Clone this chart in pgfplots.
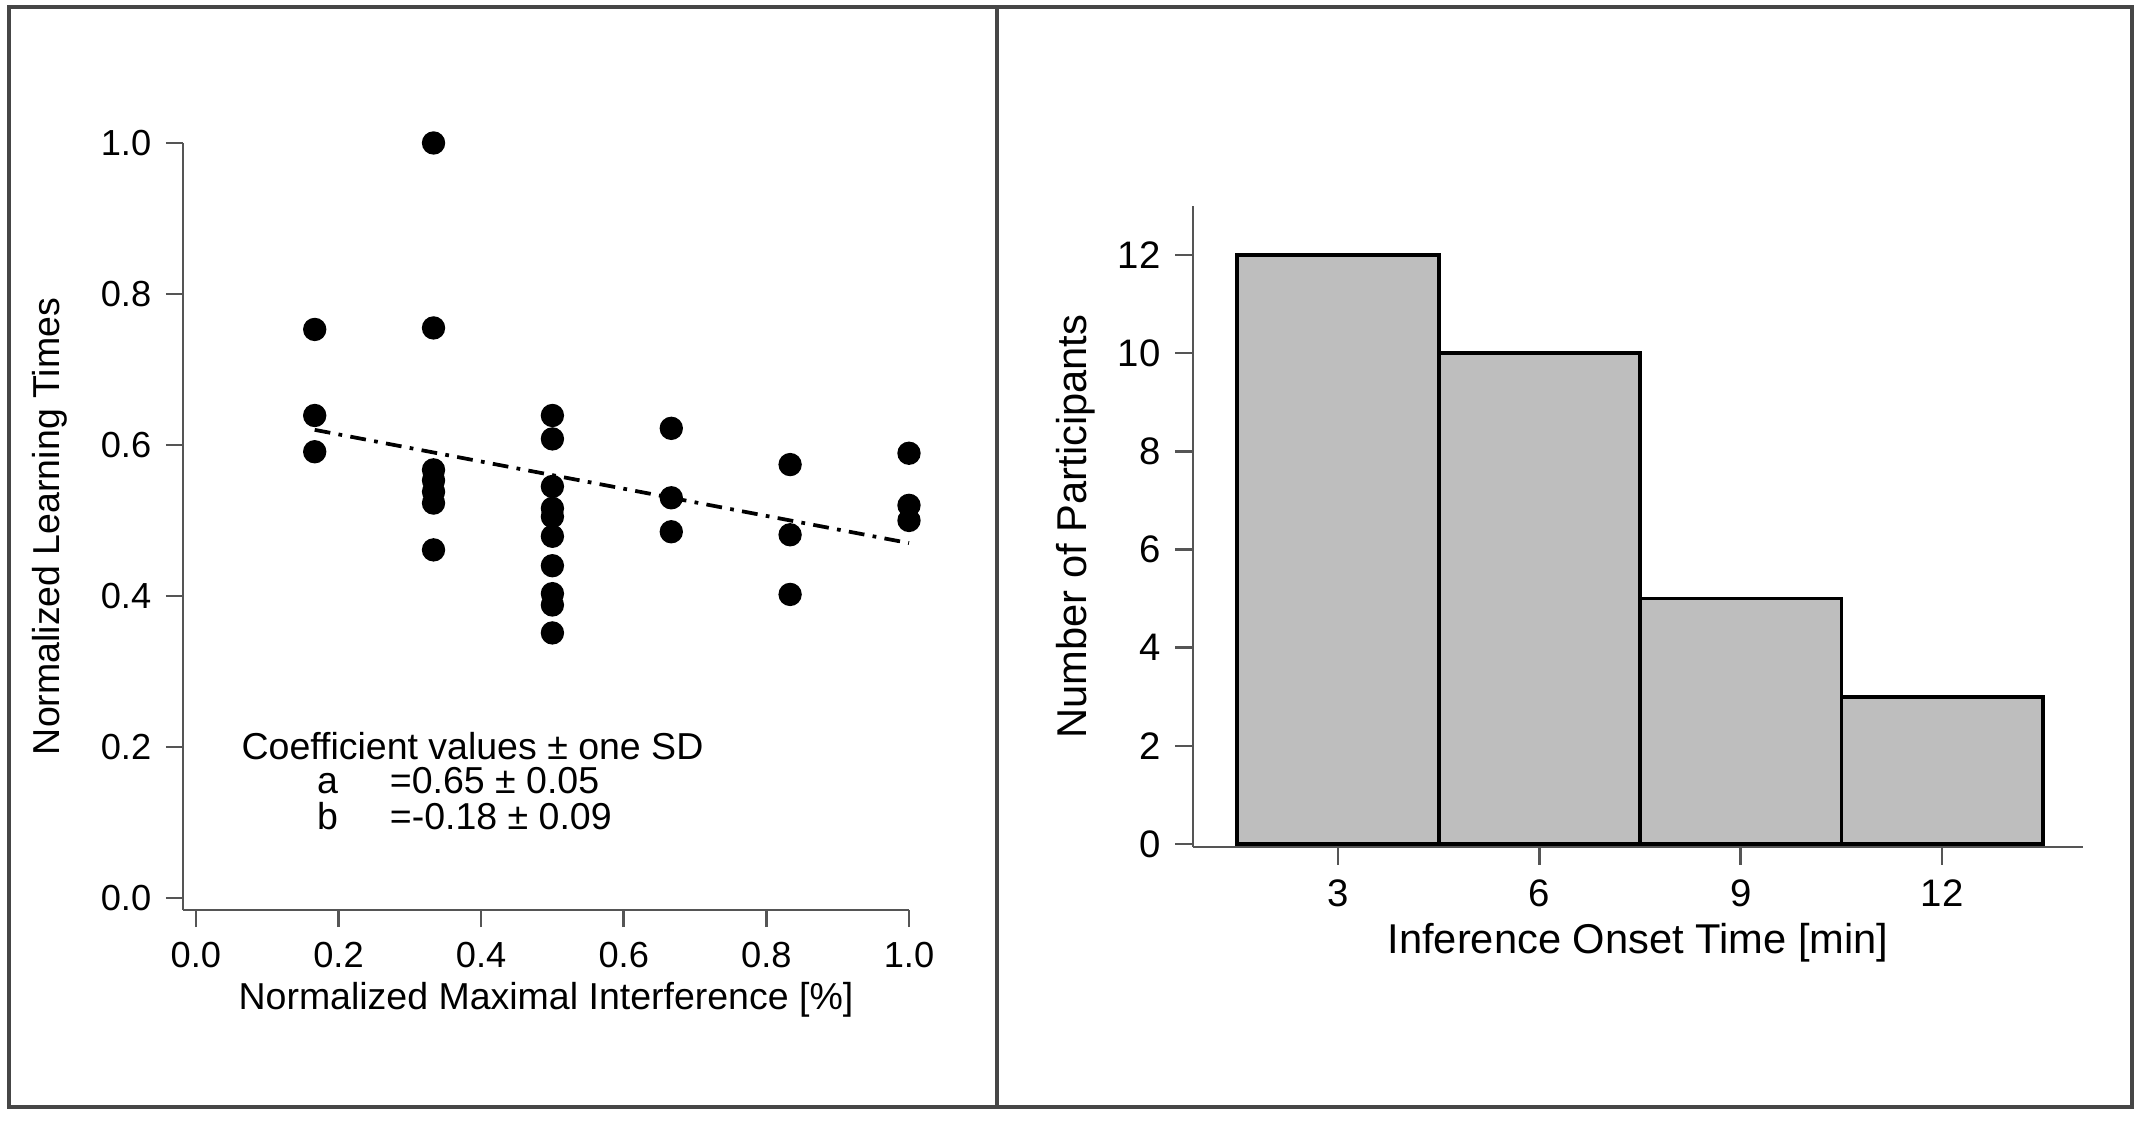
\documentclass[border=0pt]{standalone}
\usepackage{fontspec}
\setmainfont{Liberation Sans}
\usepackage{pgfplots}
\pgfplotsset{compat=1.18}
\definecolor{axgray}{RGB}{85,85,85}
\definecolor{framegray}{RGB}{70,70,70}
\definecolor{barfill}{RGB}{190,190,190}
\begin{document}
\begin{tikzpicture}
\useasboundingbox (0,0) rectangle (515.04pt,269.04pt);
\draw[line width=0.75pt, framegray] (2.16pt,3.36pt) rectangle (511.68pt,267.36pt);
\draw[line width=0.75pt, framegray] (239.28pt,3.36pt) -- (239.28pt,267.36pt);

% ---------------- left: scatter ----------------
\begin{axis}[
  at={(43.92pt,50.64pt)}, anchor=south west,
  scale only axis, width=174.24pt, height=184.08pt,
  xmin=-0.018, xmax=1.0, ymin=-0.016, ymax=1.0,
  clip=false,
  axis lines*=left,
  axis line style={axgray, line width=0.6pt},
  tick style={axgray, line width=0.6pt},
  tick align=outside, major tick length=4.1pt,
  xtick={0,0.2,0.4,0.6,0.8,1.0},
  ytick={0,0.2,0.4,0.6,0.8,1.0},
  /pgf/number format/assume math mode=true,
  tick label style={font=\fontsize{8.7}{10}\selectfont,
    /pgf/number format/fixed, /pgf/number format/fixed zerofill,
    /pgf/number format/precision=1},
  xlabel={Normalized Maximal Interference [\%]},
  ylabel={Normalized Learning Times},
  xlabel style={at={(axis description cs:0.5,-0.1173)}, anchor=center, font=\fontsize{9}{11}\selectfont},
  ylabel style={at={(axis description cs:-0.1831,0.5)}, anchor=center, rotate=0, font=\fontsize{9}{11}\selectfont},
]
\addplot[only marks, mark=*, mark size=2.6pt, black] coordinates {
  (0.1667,0.753) (0.1667,0.639) (0.1667,0.591)
  (0.3333,1.000) (0.3333,0.755) (0.3333,0.567) (0.3333,0.553) (0.3333,0.538) (0.3333,0.523) (0.3333,0.461)
  (0.5,0.639) (0.5,0.608) (0.5,0.545) (0.5,0.516) (0.5,0.505) (0.5,0.479) (0.5,0.440) (0.5,0.403) (0.5,0.388) (0.5,0.351)
  (0.6667,0.622) (0.6667,0.530) (0.6667,0.485)
  (0.8333,0.574) (0.8333,0.481) (0.8333,0.402)
  (1.0,0.589) (1.0,0.520) (1.0,0.500)
};
\addplot[black, line width=0.9pt, dash pattern=on 3.8pt off 2pt on 0.9pt off 2pt] coordinates {
  (0.1667,0.620) (1.0,0.470)
};
\node[anchor=base west, font=\fontsize{9}{11}\selectfont, inner sep=0pt] at (axis cs:0.063,0.183) {Coefficient values ± one SD};
\node[anchor=base west, font=\fontsize{9}{11}\selectfont, inner sep=0pt] at (axis cs:0.169,0.138) {a};
\node[anchor=base west, font=\fontsize{9}{11}\selectfont, inner sep=0pt] at (axis cs:0.271,0.138) {=0.65 ± 0.05};
\node[anchor=base west, font=\fontsize{9}{11}\selectfont, inner sep=0pt] at (axis cs:0.169,0.090) {b};
\node[anchor=base west, font=\fontsize{9}{11}\selectfont, inner sep=0pt] at (axis cs:0.271,0.090) {=-0.18 ± 0.09};
\end{axis}

% ---------------- right: histogram ----------------
\begin{axis}[
  at={(286.32pt,65.76pt)}, anchor=south west,
  scale only axis, width=213.6pt, height=153.84pt,
  xmin=0.84, xmax=14.1, ymin=-0.06, ymax=13,
  clip=false,
  axis lines*=left,
  axis line style={axgray, line width=0.6pt},
  tick style={axgray, line width=0.6pt},
  tick align=outside, major tick length=4.3pt,
  xtick={3,6,9,12},
  ytick={0,2,4,6,8,10,12},
  /pgf/number format/assume math mode=true,
  tick label style={font=\fontsize{9.2}{11}\selectfont},
  xlabel={Inference Onset Time [min]},
  ylabel={Number of Participants},
  xlabel style={at={(axis description cs:0.5,-0.1495)}, anchor=center, font=\fontsize{10}{12}\selectfont},
  ylabel style={at={(axis description cs:-0.1316,0.5)}, anchor=center, font=\fontsize{10}{12}\selectfont},
]
\addplot[ybar interval, fill=barfill, draw=black, line width=0.9pt] coordinates {
  (1.5,12) (4.5,10) (7.5,5) (10.5,3) (13.5,3)
};
\end{axis}
\end{tikzpicture}
\end{document}
